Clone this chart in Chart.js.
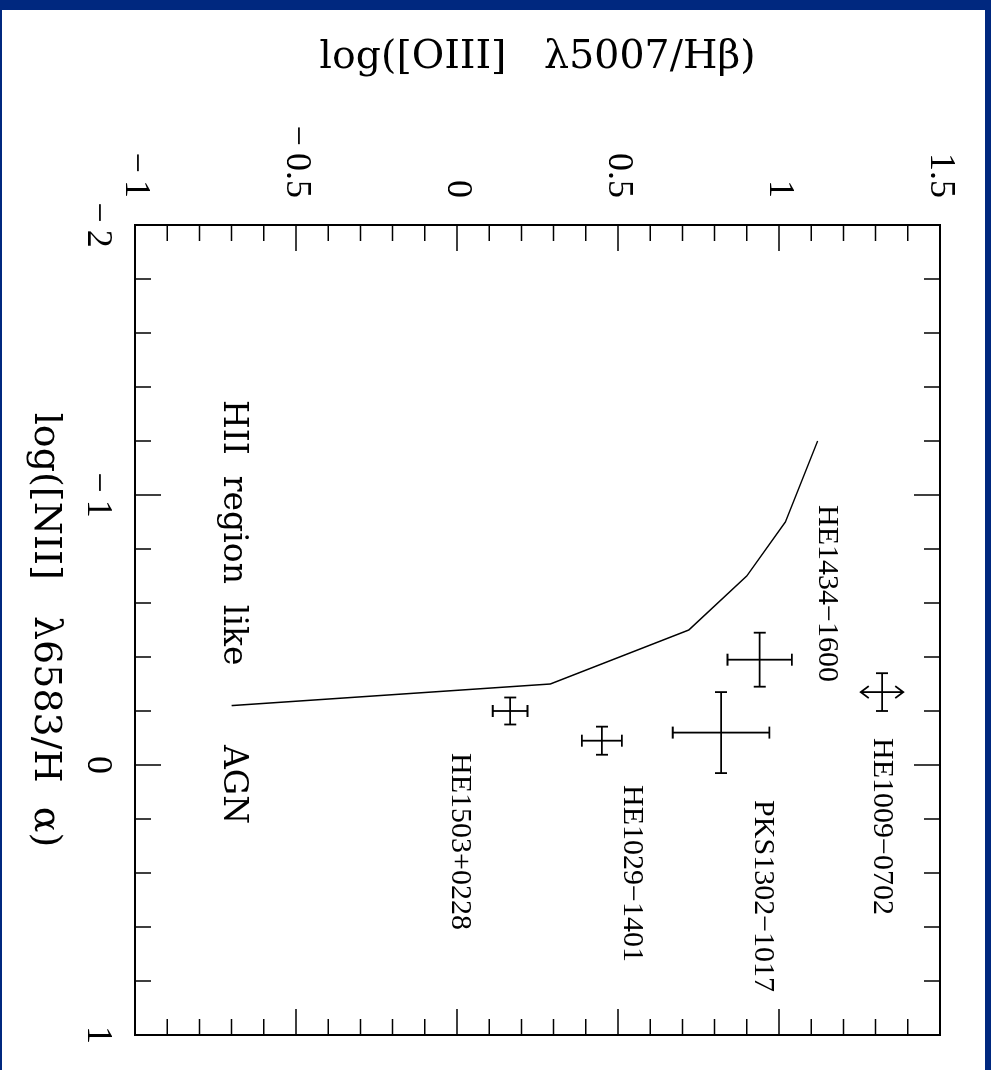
<!DOCTYPE html>
<html>
<head>
<meta charset="utf-8">
<script src="https://cdn.jsdelivr.net/npm/chart.js@4.4.1/dist/chart.umd.min.js"></script>
<style>
  html, body { margin: 0; padding: 0; background: #fff; width: 991px; height: 1070px; overflow: hidden; }
  /* the plot is laid out landscape and turned a quarter clockwise */
  #plot { position: absolute; left: 0; top: 0; width: 1070px; height: 991px;
          transform-origin: 0 0; transform: translate(991px, 0) rotate(90deg); }
  .edge { position: absolute; background: #00287f; }
</style>
</head>
<body>
<div id="plot"><canvas id="bpt" width="1070" height="991"></canvas></div>
<div class="edge" style="left:0;top:0;width:991px;height:10px"></div>
<div class="edge" style="left:0;top:0;width:2px;height:1070px"></div>
<div class="edge" style="left:985px;top:0;width:6px;height:1070px"></div>
<script>
// dividing line between HII-region-like and AGN spectra
const curveNII = [-1.2, -0.9, -0.7, -0.5, -0.3, -0.22];
const curveOIII = [1.12, 1.02, 0.9, 0.72, 0.29, -0.7];

// measured line ratios with 1-sigma errors
const objNames = ["HE1009\u22120702", "HE1434\u22121600", "PKS1302\u22121017", "HE1029\u22121401", "HE1503+0228"];
const objNII = [-0.27, -0.39, -0.12, -0.09, -0.20];
const objOIII = [1.32, 0.94, 0.82, 0.45, 0.165];
const objNIIErr = [0.07, 0.10, 0.15, 0.052, 0.05];
const objOIIIErr = [0.066, 0.10, 0.15, 0.062, 0.054];
const objOIIIArrow = [true, false, false, false, false];

// start of each object name
const nameNII = [-0.10, -0.963, 0.13, 0.074, -0.044];
const nameOIII = [1.32, 1.149, 0.95, 0.543, 0.009];

const regionText = ["HII  region  like", "AGN"];
const regionNII = [-1.352, -0.074];
const regionOIII = [-0.696, -0.696];

const niiTicks = [-2, -1, 0, 1];
const oiiiTicks = [-1, -0.5, 0, 0.5, 1, 1.5];

// wide minus like the plotting package uses
const fmt = (v) => (v < 0 ? "\u2212\u2009" + Math.abs(v) : String(v));

// box with inward major/minor ticks on all four sides
const frameTicks = {
  id: "frameTicks",
  afterDatasetsDraw(chart) {
    const { ctx, chartArea: a, scales: { x, y } } = chart;
    ctx.save();
    ctx.strokeStyle = "#000";
    ctx.lineWidth = 1.5;
    ctx.beginPath();
    for (let i = 0; i <= 15; i++) {
      const v = -2 + i * 0.2;
      const px = x.getPixelForValue(v);
      const len = Math.abs(v - Math.round(v)) < 1e-6 ? 26 : 16;
      ctx.moveTo(px, a.bottom); ctx.lineTo(px, a.bottom - len);
      ctx.moveTo(px, a.top); ctx.lineTo(px, a.top + len);
    }
    for (let i = 0; i <= 25; i++) {
      const v = -1 + i * 0.1;
      const py = y.getPixelForValue(v);
      const len = Math.abs(v * 2 - Math.round(v * 2)) < 1e-6 ? 26 : 16;
      ctx.moveTo(a.left, py); ctx.lineTo(a.left + len, py);
      ctx.moveTo(a.right, py); ctx.lineTo(a.right - len, py);
    }
    ctx.stroke();
    ctx.lineWidth = 2;
    ctx.strokeRect(a.left, a.top, a.right - a.left, a.bottom - a.top);
    ctx.restore();
  }
};

// error crosses, arrow ends for limits
const errorBars = {
  id: "errorBars",
  afterDatasetsDraw(chart) {
    const { ctx, scales: { x, y } } = chart;
    const cap = 6;
    ctx.save();
    ctx.strokeStyle = "#000";
    ctx.lineWidth = 1.8;
    objNII.forEach((nii, i) => {
      const cx = x.getPixelForValue(nii);
      const cy = y.getPixelForValue(objOIII[i]);
      const x0 = x.getPixelForValue(nii - objNIIErr[i]);
      const x1 = x.getPixelForValue(nii + objNIIErr[i]);
      const y0 = y.getPixelForValue(objOIII[i] - objOIIIErr[i]);
      const y1 = y.getPixelForValue(objOIII[i] + objOIIIErr[i]);
      ctx.beginPath();
      ctx.moveTo(x0, cy); ctx.lineTo(x1, cy);
      ctx.moveTo(x0, cy - cap); ctx.lineTo(x0, cy + cap);
      ctx.moveTo(x1, cy - cap); ctx.lineTo(x1, cy + cap);
      ctx.moveTo(cx, y0); ctx.lineTo(cx, y1);
      if (objOIIIArrow[i]) {
        ctx.moveTo(cx - cap, y0 - 8); ctx.lineTo(cx, y0); ctx.lineTo(cx + cap, y0 - 8);
        ctx.moveTo(cx - cap, y1 + 8); ctx.lineTo(cx, y1); ctx.lineTo(cx + cap, y1 + 8);
      } else {
        ctx.moveTo(cx - cap, y0); ctx.lineTo(cx + cap, y0);
        ctx.moveTo(cx - cap, y1); ctx.lineTo(cx + cap, y1);
      }
      ctx.stroke();
    });
    ctx.restore();
  }
};

const textLabels = {
  id: "textLabels",
  afterDatasetsDraw(chart) {
    const { ctx, scales: { x, y } } = chart;
    ctx.save();
    ctx.fillStyle = "#000";
    ctx.textAlign = "left";
    ctx.textBaseline = "middle";
    ctx.font = '30px "Liberation Serif"';
    objNames.forEach((name, i) => {
      ctx.fillText(name, x.getPixelForValue(nameNII[i]), y.getPixelForValue(nameOIII[i]));
    });
    ctx.font = '33px "DejaVu Serif"';
    regionText.forEach((t, i) => {
      ctx.fillText(t, x.getPixelForValue(regionNII[i]), y.getPixelForValue(regionOIII[i]));
    });
    ctx.restore();
  }
};

new Chart(document.getElementById("bpt"), {
  type: "scatter",
  data: {
    datasets: [
      {
        type: "line",
        data: curveNII.map((v, i) => ({ x: v, y: curveOIII[i] })),
        borderColor: "#000",
        borderWidth: 1.5,
        pointRadius: 0,
        fill: false,
        tension: 0,
      },
      {
        data: objNII.map((v, i) => ({ x: v, y: objOIII[i] })),
        pointRadius: 0,
      },
    ],
  },
  options: {
    responsive: false,
    animation: false,
    layout: { padding: { top: 51, right: 35, left: 0, bottom: 0 } },
    plugins: { legend: { display: false }, tooltip: { enabled: false } },
    scales: {
      x: {
        type: "linear",
        position: "bottom",
        min: -2,
        max: 1,
        afterBuildTicks: (s) => { s.ticks = niiTicks.map((v) => ({ value: v })); },
        afterFit: (s) => { s.height = 135; },
        ticks: {
          callback: fmt,
          color: "#000",
          padding: 16,
          maxRotation: 0,
          font: { family: "Liberation Serif", size: 36 },
        },
        grid: { display: false, drawTicks: false },
        border: { display: false },
        title: {
          display: true,
          text: "log([NII]   \u03bb6583/H  \u03b1)",
          color: "#000",
          padding: { bottom: 22 },
          font: { family: "DejaVu Serif", size: 38 },
        },
      },
      y: {
        type: "linear",
        position: "left",
        min: -1,
        max: 1.5,
        afterBuildTicks: (s) => { s.ticks = oiiiTicks.map((v) => ({ value: v })); },
        afterFit: (s) => { s.width = 225; },
        ticks: {
          callback: fmt,
          color: "#000",
          padding: 27,
          font: { family: "Liberation Serif", size: 36 },
        },
        grid: { display: false, drawTicks: false },
        border: { display: false },
        title: {
          display: true,
          text: "log([OIII]   \u03bb5007/H\u03b2)",
          color: "#000",
          padding: { top: 34 },
          font: { family: "DejaVu Serif", size: 39.5 },
        },
      },
    },
  },
  plugins: [frameTicks, errorBars, textLabels],
});
</script>
</body>
</html>
